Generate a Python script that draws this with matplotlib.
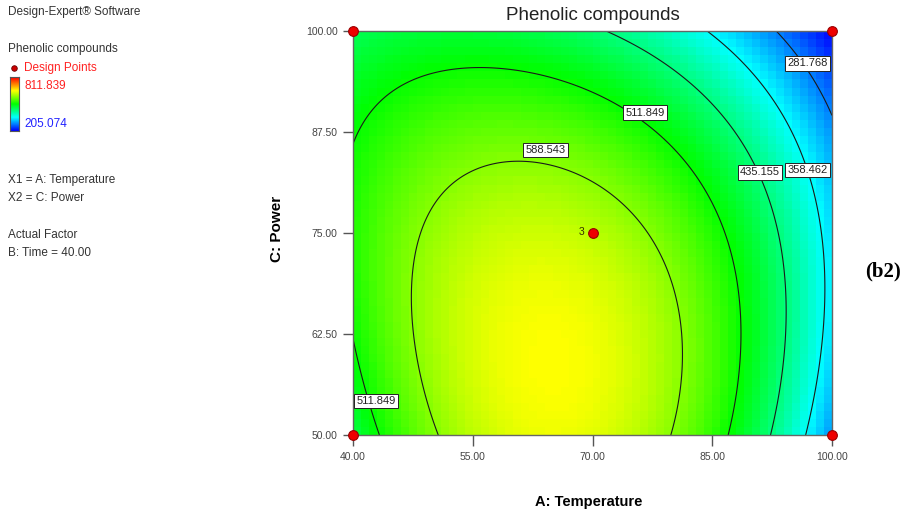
import numpy as np
import matplotlib.pyplot as plt
from matplotlib.colors import LinearSegmentedColormap, Normalize

plt.rcParams['font.family'] = ['Liberation Sans', 'DejaVu Sans']

# response range shown on the legend bar
y_min = 205.074
y_max = 811.839

# quadratic-plus model for Phenolic compounds in coded units
# a = (Temperature - 70) / 30, c = (Power - 75) / 25, Time fixed at 40
terms = ['1', 'a', 'c', 'ac', 'a2', 'c2', 'a2c', 'ac2', 'a3', 'c3']
coefs = [619.1, -88.8, -101.2, -19.7, -187.0, -76.1, 76.2, -12.6, -5.6, 0.6]

contour_levels = [281.768, 358.462, 435.155, 511.849, 588.543]
# where each contour label sits (Temperature, Power)
label_spots = [(96.9, 96.0), (96.9, 82.8), (91.0, 82.5), (76.6, 89.9),
               (64.1, 85.3), (42.9, 54.2)]

# design points on this slice
pt_temp = [40, 40, 100, 100, 70]
pt_power = [50, 100, 50, 100, 75]
pt_reps = ['', '', '', '', '3']

x_ticks = [40, 55, 70, 85, 100]
y_ticks = [50, 62.5, 75, 87.5, 100]


def model(A, C):
    a = (A - 70) / 30
    c = (C - 75) / 25
    basis = [np.ones_like(a), a, c, a * c, a**2, c**2, a**2 * c, a * c**2, a**3, c**3]
    return sum(k * b for k, b in zip(coefs, basis))


cmap = LinearSegmentedColormap.from_list(
    'de', ['#0000ff', '#00ffff', '#00ff00', '#ffff00', '#ff0000'])
norm = Normalize(y_min, y_max)

fig = plt.figure(figsize=(9.22, 5.23), dpi=100)
ax = fig.add_axes([353 / 922, 1 - 435 / 523, 479 / 922, 404 / 523])

# coarse cells for the shaded surface
ea = np.linspace(40, 100, 61)
ec = np.linspace(50, 100, 51)
ca = (ea[:-1] + ea[1:]) / 2
cc = (ec[:-1] + ec[1:]) / 2
CA, CC = np.meshgrid(ca, cc)
ax.pcolormesh(ea, ec, model(CA, CC), cmap=cmap, norm=norm, shading='flat')

# fine grid for the contour lines
fa, fc = np.meshgrid(np.linspace(40, 100, 300), np.linspace(50, 100, 300))
cs = ax.contour(fa, fc, model(fa, fc), contour_levels, colors='#1a1a1a', linewidths=0.8)
labels = ax.clabel(cs, contour_levels, inline=False, manual=label_spots,
                   fmt='%.3f', fontsize=8)
for t, spot in zip(labels, label_spots):
    t.set_position(spot)
    t.set_rotation(0)
    t.set_ha('center')
    t.set_va('center')
    t.set_color('#222222')
    t.set_bbox(dict(boxstyle='square,pad=0.2', fc='white', ec='#222222', lw=0.7))

ax.plot(pt_temp, pt_power, 'o', ms=7, mfc='#ee0000', mec='#990000', mew=0.8,
        clip_on=False, zorder=5)
for xt, yt, s in zip(pt_temp, pt_power, pt_reps):
    if s:
        ax.annotate(s, (xt, yt), xytext=(-8, 1), textcoords='offset points',
                    fontsize=7.5, color='#333300', ha='center', va='center')

ax.set_xlim(40, 100)
ax.set_ylim(50, 100)
ax.set_xticks(x_ticks, [f'{v:.2f}' for v in x_ticks])
ax.set_yticks(y_ticks, [f'{v:.2f}' for v in y_ticks])
ax.tick_params(axis='x', length=8, width=1, color='#555555', labelsize=7.5,
               labelcolor='#444444', pad=4)
ax.tick_params(axis='y', length=7, width=1, color='#555555', labelsize=7.5,
               labelcolor='#444444', pad=4)
for sp in ax.spines.values():
    sp.set_color('#666666')
    sp.set_linewidth(1)

ax.set_title('Phenolic compounds', fontsize=13.5, color='#222222', pad=8)
fig.text(589 / 922, 1 - 502 / 523, 'A: Temperature', fontsize=10.5,
         fontweight='bold', ha='center', va='center')
fig.text(277 / 922, 1 - 229 / 523, 'C: Power', fontsize=11, fontweight='bold',
         rotation=90, ha='center', va='center')
fig.text(883 / 922, 1 - 271 / 523, '(b2)', fontsize=15, fontweight='bold',
         family='Liberation Serif', ha='center', va='center')

# legend panel on the left
side = [('Design-Expert® Software', 12), ('Phenolic compounds', 49),
        ('X1 = A: Temperature', 180), ('X2 = C: Power', 198),
        ('Actual Factor', 235), ('B: Time = 40.00', 253)]
for s, yp in side:
    fig.text(8 / 922, 1 - yp / 523, s, fontsize=8.5, color='#333333', va='center')
fig.text(24 / 922, 1 - 68 / 523, 'Design Points', fontsize=8.5, color='#ff2222', va='center')
fig.text(24 / 922, 1 - 86 / 523, f'{y_max:.3f}', fontsize=8.5, color='#ff2222', va='center')
fig.text(24 / 922, 1 - 124 / 523, f'{y_min:.3f}', fontsize=8.5, color='#2222ff', va='center')
fig.add_artist(plt.Line2D([14 / 922], [1 - 68 / 523], marker='o', ms=4,
                          mfc='#cc0000', mec='#660000', mew=0.6))

cax = fig.add_axes([10 / 922, 1 - 131 / 523, 9 / 922, 54 / 523])
cax.imshow(np.linspace(1, 0, 100)[:, None], aspect='auto', cmap=cmap)
cax.set_xticks([])
cax.set_yticks([])
for sp in cax.spines.values():
    sp.set_color('#555555')

fig.savefig('out.png')
